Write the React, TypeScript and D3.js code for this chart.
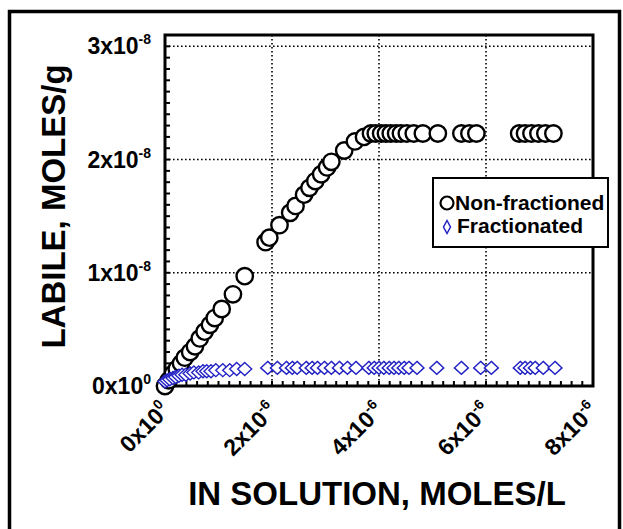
import React from 'react';
import * as d3 from 'd3';

// x in units of 1e-6 mol/L, y in units of 1e-8 mol/g
const nonFracX = [0, 0.07, 0.15, 0.22, 0.30, 0.37, 0.47, 0.56, 0.65, 0.74, 0.84, 0.93, 1.06, 1.27, 1.49,
  1.88, 1.95, 2.14, 2.34, 2.44, 2.60, 2.70, 2.81, 2.92, 3.03, 3.11, 3.35, 3.55, 3.72,
  3.85, 3.94, 4.04, 4.13, 4.22, 4.32, 4.41, 4.52, 4.65, 4.82, 5.10, 5.54, 5.69, 5.82,
  6.62, 6.73, 6.85, 6.98, 7.11, 7.26];
const nonFracY = [0, 0.05, 0.11, 0.15, 0.20, 0.25, 0.30, 0.35, 0.42, 0.48, 0.54, 0.60, 0.68, 0.81, 0.97,
  1.27, 1.31, 1.42, 1.53, 1.59, 1.69, 1.75, 1.81, 1.87, 1.93, 1.98, 2.08, 2.16, 2.20,
  2.23, 2.23, 2.23, 2.23, 2.23, 2.23, 2.23, 2.23, 2.23, 2.23, 2.23, 2.23, 2.23, 2.23,
  2.23, 2.23, 2.23, 2.23, 2.23, 2.23];

const fracX = [0, 0.04, 0.09, 0.15, 0.20, 0.26, 0.32, 0.39, 0.47, 0.54, 0.63, 0.71, 0.78, 0.86, 0.95, 1.08, 1.21, 1.34, 1.49,
  1.92, 2.10, 2.27, 2.38, 2.47, 2.64, 2.75, 2.85, 2.98, 3.11, 3.26, 3.41, 3.57,
  3.81, 3.91, 4.00, 4.09, 4.19, 4.28, 4.37, 4.47, 4.56, 4.71, 5.08, 5.54, 5.90, 6.10,
  6.64, 6.73, 6.83, 6.92, 7.07, 7.29];
const fracY = [0.04, 0.05, 0.06, 0.07, 0.08, 0.09, 0.10, 0.10, 0.11, 0.12, 0.12, 0.13, 0.13, 0.13, 0.14, 0.14, 0.14, 0.15, 0.15,
  0.16, 0.16, 0.16, 0.16, 0.16, 0.16, 0.16, 0.16, 0.16, 0.16, 0.16, 0.16, 0.16,
  0.16, 0.16, 0.16, 0.16, 0.16, 0.16, 0.16, 0.16, 0.16, 0.16, 0.16, 0.16, 0.16, 0.16,
  0.16, 0.16, 0.16, 0.16, 0.16, 0.16];

const xTicks = [0, 2, 4, 6, 8];
const xTickBase = ['0x10', '2x10', '4x10', '6x10', '8x10'];
const xTickExp = ['0', '-6', '-6', '-6', '-6'];
const yTicks = [0, 1, 2, 3];
const yTickBase = ['0x10', '1x10', '2x10', '3x10'];
const yTickExp = ['0', '-8', '-8', '-8'];

const FONT = '"Liberation Sans", Arial, Helvetica, sans-serif';
const BLUE = '#2222c4';

export default function App() {
  const x = d3.scaleLinear().domain([0, 8]).range([165, 593]);
  const y = d3.scaleLinear().domain([0, 3.1]).range([386, 35]);
  const xMinor = d3.range(0, 8.001, 0.2);
  const yMinor = d3.range(0, 3.1, 0.1);
  const diamond = (cx: number, cy: number, w: number, h: number) =>
    `M${cx},${cy - h}L${cx + w},${cy}L${cx},${cy + h}L${cx - w},${cy}Z`;

  return (
    <svg width={623} height={529} style={{ position: 'absolute', left: 0, top: 0, background: '#fff' }}
      fontFamily={FONT} fontWeight="bold">
      <rect x={9.5} y={11.5} width={610} height={540} fill="none" stroke="#000" strokeWidth={3.5} />

      {/* grid */}
      {xTicks.slice(1, 4).map(t => (
        <line key={'gx' + t} x1={x(t)} x2={x(t)} y1={y(3.1)} y2={y(0)} stroke="#000" strokeWidth={1.6} strokeDasharray="1.6,2.4" />
      ))}
      {yTicks.slice(1).map(t => (
        <line key={'gy' + t} x1={x(0)} x2={x(8)} y1={y(t)} y2={y(t)} stroke="#000" strokeWidth={1.6} strokeDasharray="1.6,2.4" />
      ))}

      {/* minor ticks, inside */}
      {xMinor.map((t, i) => (
        <line key={'mx' + i} x1={x(t)} x2={x(t)} y1={y(0)} y2={y(0) - 5} stroke="#000" strokeWidth={2} />
      ))}
      {yMinor.map((t, i) => (
        <line key={'my' + i} x1={x(0)} x2={x(0) + 5} y1={y(t)} y2={y(t)} stroke="#000" strokeWidth={2} />
      ))}

      <rect x={x(0)} y={y(3.1)} width={x(8) - x(0)} height={y(0) - y(3.1)} fill="none" stroke="#000" strokeWidth={3} />

      {/* data */}
      {nonFracX.map((v, i) => (
        <circle key={'c' + i} cx={x(v)} cy={y(nonFracY[i])} r={8.2} fill="#fff" stroke="#000" strokeWidth={2.4} />
      ))}
      {fracX.map((v, i) => (
        <path key={'d' + i} d={diamond(x(v), y(fracY[i]), 7, 6.5)} fill="#fff" stroke={BLUE} strokeWidth={1.4} />
      ))}

      {/* y tick labels */}
      {yTicks.map((t, i) => (
        <text key={'yl' + t} x={151} y={y(t) + 8} textAnchor="end" fontSize={23}>
          {yTickBase[i]}
          <tspan fontSize={14} dy={-10}>{yTickExp[i]}</tspan>
        </text>
      ))}

      {/* x tick labels */}
      {xTicks.map((t, i) => (
        <text key={'xl' + t} transform={`translate(${x(t) + 6},${y(0) + 26}) rotate(-45)`} textAnchor="end" fontSize={23}>
          {xTickBase[i]}
          <tspan fontSize={14} dy={-10}>{xTickExp[i]}</tspan>
        </text>
      ))}

      {/* axis titles */}
      <text x={377} y={505} textAnchor="middle" fontSize={33}>IN SOLUTION, MOLES/L</text>
      <text transform={`translate(65,${(y(0) + y(3.1)) / 2 - 4}) rotate(-90)`} textAnchor="middle" fontSize={33}>LABILE, MOLES/g</text>

      {/* legend */}
      <rect x={433} y={178} width={175} height={69} fill="#fff" stroke="#000" strokeWidth={2} />
      <circle cx={447} cy={203} r={6.5} fill="#fff" stroke="#000" strokeWidth={2.2} />
      <text x={455} y={210} fontSize={21}>Non-fractioned</text>
      <path d={diamond(447, 227, 3.5, 6.5)} fill="#fff" stroke={BLUE} strokeWidth={1.5} />
      <text x={457} y={233} fontSize={21}>Fractionated</text>
    </svg>
  );
}
